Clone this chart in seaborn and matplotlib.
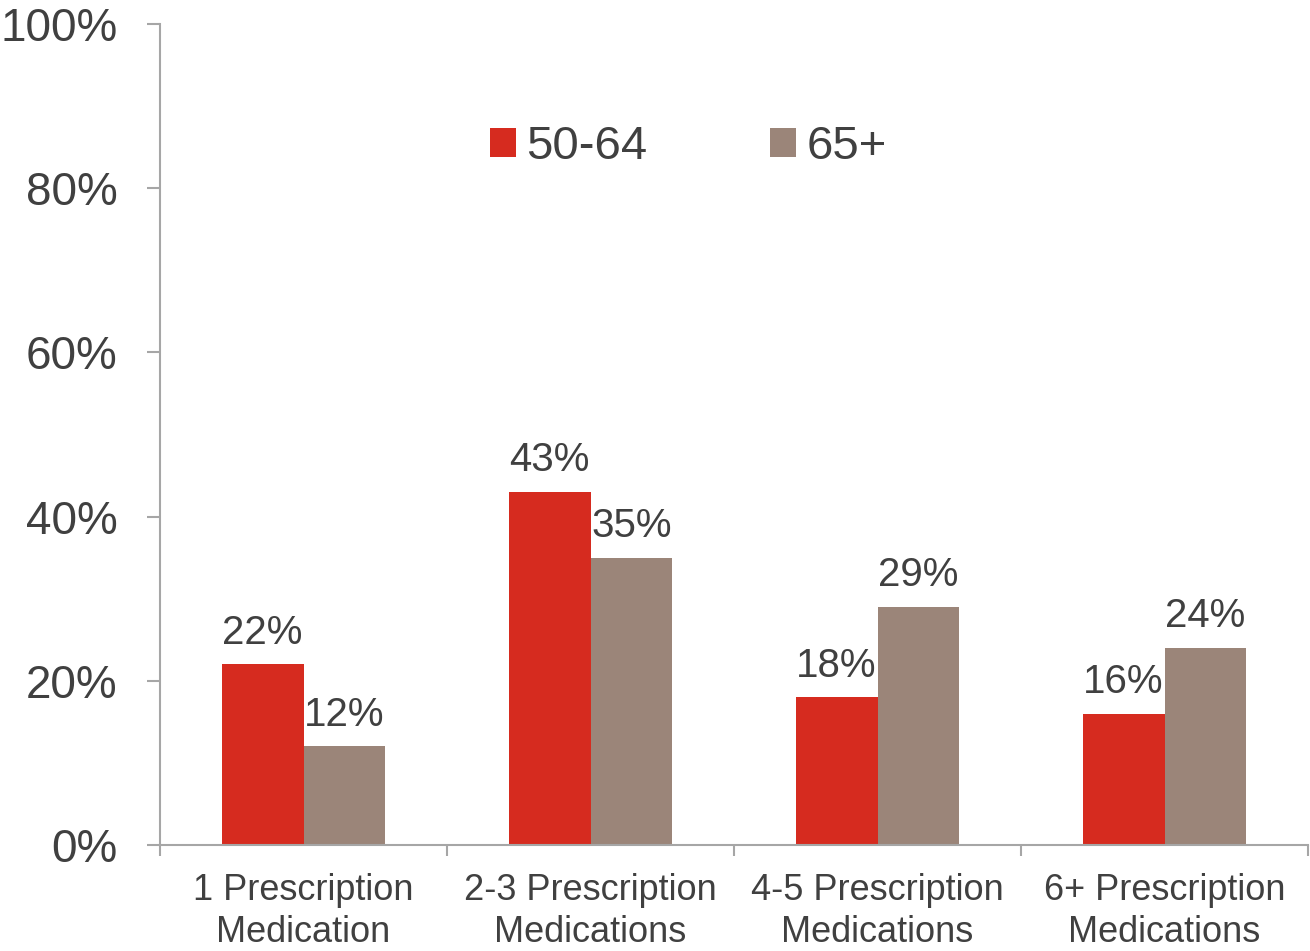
import matplotlib
matplotlib.use("Agg")
import matplotlib.pyplot as plt
import seaborn as sns
import pandas as pd
from matplotlib.patches import Patch

categories = ["1 Prescription\nMedication", "2-3 Prescription\nMedications",
              "4-5 Prescription\nMedications", "6+ Prescription\nMedications"]
series_names = ["50-64", "65+"]
values_50_64 = [22, 43, 18, 16]
values_65 = [12, 35, 29, 24]
y_ticks = [0, 20, 40, 60, 80, 100]

colors = ["#D62B1F", "#9B8579"]
text_color = "#404040"
axis_color = "#A6A6A6"

df = pd.DataFrame({
    "category": categories * 2,
    "group": [series_names[0]] * 4 + [series_names[1]] * 4,
    "value": values_50_64 + values_65,
})

sns.set_theme(style="white")
plt.rcParams["font.family"] = ["Liberation Sans", "DejaVu Sans"]

fig = plt.figure(figsize=(13.1, 9.51), dpi=100)
ax = fig.add_axes([160 / 1310, 1 - 845 / 951, (1308 - 160) / 1310, (845 - 24) / 951])

sns.barplot(data=df, x="category", y="value", hue="group", order=categories,
            hue_order=series_names, palette=colors, width=0.57, gap=0,
            saturation=1, ax=ax, legend=False, edgecolor="none", linewidth=0)

for cont in ax.containers:
    ax.bar_label(cont, labels=[f"{int(round(v))}%" for v in cont.datavalues],
                 padding=9, fontsize=29, color=text_color)

ax.set_ylim(0, 100)
ax.set_xlim(-0.5, 3.5)
ax.set_yticks(y_ticks)
ax.set_yticklabels([f"{t}%" for t in y_ticks])
ax.set_xticks([-0.5, 0.5, 1.5, 2.5, 3.5], minor=False)
ax.set_xticklabels([])
ax.set_xticks([0, 1, 2, 3], minor=True)
ax.set_xticklabels(categories, minor=True, fontsize=26, color=text_color, linespacing=1.25)
ax.tick_params(axis="x", which="major", bottom=True, direction="out", length=8, width=1.5, color=axis_color)
ax.tick_params(axis="x", which="minor", bottom=True, length=0, pad=20)
ax.tick_params(axis="y", left=True, direction="out", length=9.5, width=1.5, color=axis_color,
               labelsize=33, labelcolor=text_color, pad=21)
ax.set_xlabel("")
ax.set_ylabel("")

for s in ["top", "right"]:
    ax.spines[s].set_visible(False)
for s in ["left", "bottom"]:
    ax.spines[s].set_color(axis_color)
    ax.spines[s].set_linewidth(1.5)

handles = [Patch(facecolor=c, edgecolor="none") for c in colors]
fig.legend(handles, series_names, loc="center", bbox_to_anchor=(688.5 / 1310, 1 - 147 / 951),
           ncol=2, frameon=False, fontsize=34, labelcolor=text_color,
           handlelength=0.55, handleheight=0.55, handletextpad=0.23, columnspacing=2.6)

fig.savefig("out.png", dpi=100)
